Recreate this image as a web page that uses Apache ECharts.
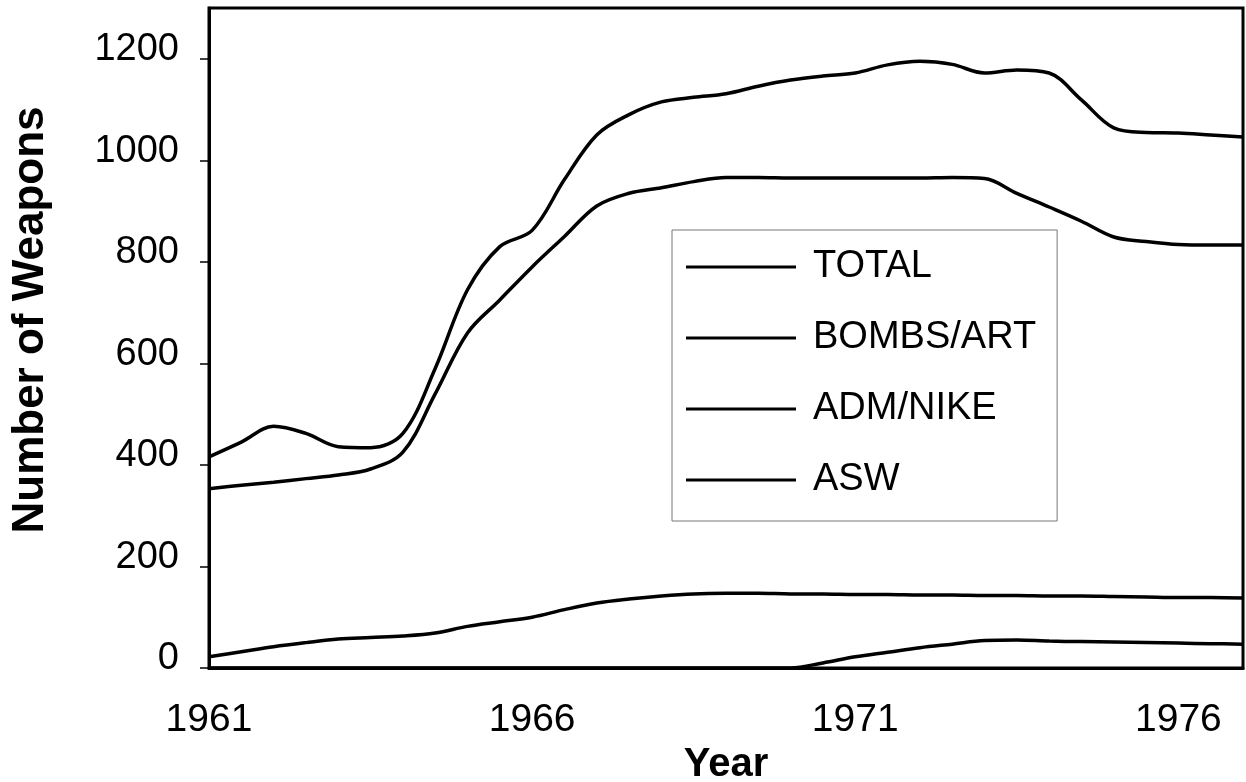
<!DOCTYPE html>
<html>
<head>
<meta charset="utf-8">
<script src="https://cdn.jsdelivr.net/npm/echarts@6/dist/echarts.min.js"></script>
<style>
  html, body { margin: 0; padding: 0; background: #fff; }
  #main { width: 1246px; height: 782px; }
</style>
</head>
<body>
<div id="main"></div>
<script>
// 数据（从图上读出来的，每半年一个点）
var seriesNames = ['TOTAL', 'BOMBS/ART', 'ADM/NIKE', 'ASW'];
var tickYears = [1961, 1966, 1971, 1976];

var years = [1961, 1961.5, 1962, 1962.5, 1963, 1963.5, 1964, 1964.5, 1965, 1965.5,
  1966, 1966.5, 1967, 1967.5, 1968, 1968.5, 1969, 1969.5, 1970, 1970.5,
  1971, 1971.5, 1972, 1972.5, 1973, 1973.5, 1974, 1974.5, 1975, 1975.5,
  1976, 1976.5, 1977];

var total = [416, 445, 476, 462, 436, 434, 462, 590, 745, 830,
  862, 962, 1050, 1090, 1115, 1124, 1131, 1146, 1158, 1166,
  1172, 1188, 1195, 1189, 1172, 1178, 1172, 1119, 1064, 1055,
  1054, 1050, 1046];

var bombs = [353, 360, 366, 373, 380, 392, 425, 540, 660, 725,
  790, 850, 910, 935, 946, 958, 966, 966, 965, 965,
  965, 965, 965, 966, 964, 935, 908, 880, 849, 840,
  834, 833, 833];

var adm = [22, 32, 42, 50, 57, 60, 63, 69, 82, 91,
  100, 115, 128, 136, 142, 146, 147, 147, 146, 146,
  145, 145, 144, 144, 143, 143, 142, 142, 141, 140,
  139, 139, 138];

var asw = [0, 0, 0, 0, 0, 0, 0, 0, 0, 0,
  0, 0, 0, 0, 0, 0, 0, 0, 0, 10,
  22, 31, 40, 47, 54, 55, 53, 52, 51, 50,
  49, 48, 47];

var allValues = [total, bombs, adm, asw];

var myChart = echarts.init(document.getElementById('main'));

var font = '"Liberation Sans", Arial, sans-serif';

var series = [];
for (var i = 0; i < seriesNames.length; i++) {
  var pts = [];
  for (var j = 0; j < years.length; j++) {
    pts.push([years[j], allValues[i][j]]);
  }
  series.push({
    name: seriesNames[i],
    type: 'line',
    data: pts,
    smooth: 0.35,
    showSymbol: false,
    lineStyle: { color: '#000', width: 3.5 },
    itemStyle: { color: '#000' }
  });
}

var option = {
  backgroundColor: '#fff',
  animation: false,
  grid: {
    left: 209, right: 3, top: 8, bottom: 114,
    show: true, borderColor: '#000', borderWidth: 3,
    containLabel: false,
    outerBoundsMode: 'none'
  },
  legend: {
    orient: 'vertical',
    left: 672, top: 230,
    data: seriesNames,
    icon: 'rect',
    itemWidth: 110, itemHeight: 3,
    itemGap: 23,
    padding: [13, 21, 17, 14],
    borderColor: '#777', borderWidth: 1,
    backgroundColor: '#fff',
    textStyle: { fontFamily: font, fontSize: 38, color: '#000', lineHeight: 40, padding: [0, 0, 8, 12] }
  },
  xAxis: {
    type: 'value',
    min: 1961, max: 1977, interval: 1,
    splitLine: { show: false },
    axisLine: { lineStyle: { color: '#000', width: 3 } },
    axisTick: { show: false },
    axisLabel: {
      margin: 33,
      fontFamily: font, fontSize: 39, color: '#000',
      formatter: function (v) { return tickYears.indexOf(v) >= 0 ? String(v) : ''; }
    },
    name: 'Year',
    nameLocation: 'middle',
    nameGap: 76,
    nameTextStyle: { fontFamily: font, fontSize: 40, fontWeight: 'bold', color: '#000' }
  },
  yAxis: {
    type: 'value',
    min: 0, max: 1300, interval: 200,
    splitLine: { show: false },
    axisLine: { show: true, lineStyle: { color: '#000', width: 3 } },
    axisTick: { show: true, length: 9, lineStyle: { color: '#000', width: 1.5 } },
    axisLabel: {
      showMaxLabel: false,
      margin: 30,
      fontFamily: font, fontSize: 38, color: '#000',
      verticalAlign: 'bottom',
      lineHeight: 18,
      formatter: function (v) { return String(v); }
    },
    name: 'Number of Weapons',
    nameLocation: 'middle',
    nameRotate: 90,
    nameGap: 156,
    nameTextStyle: { fontFamily: font, fontSize: 44, fontWeight: 'bold', color: '#000', padding: [0, 0, 0, 36] }
  },
  series: series
};

myChart.setOption(option);
</script>
</body>
</html>
